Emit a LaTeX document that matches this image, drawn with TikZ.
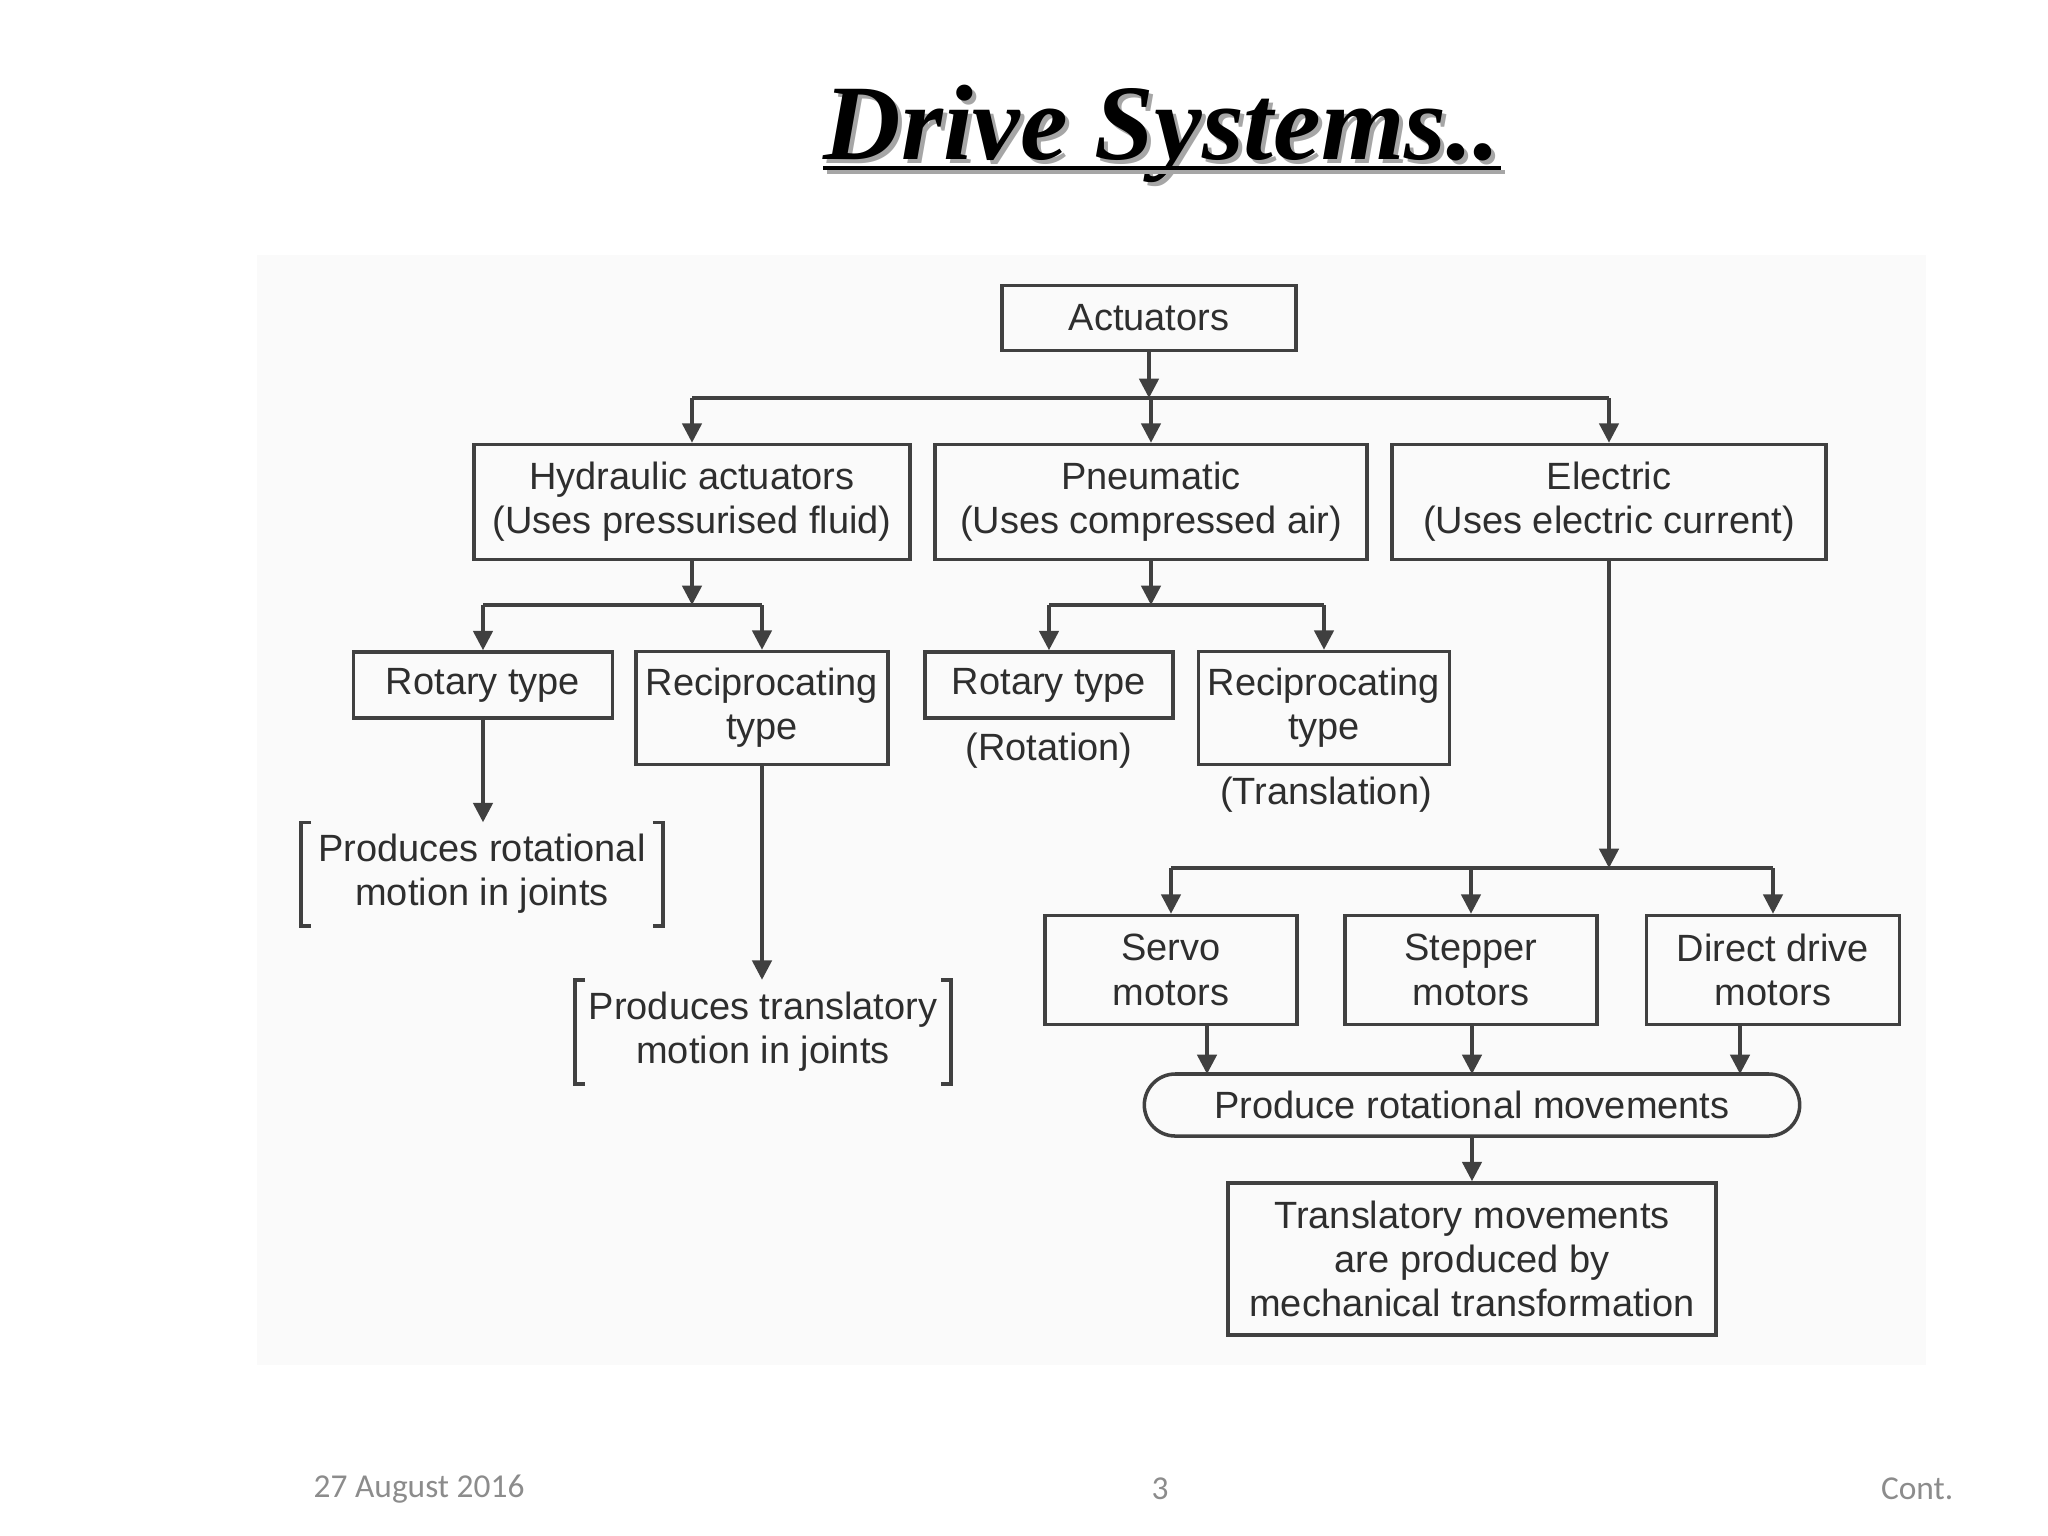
\documentclass[tikz,border=0pt]{standalone}
\usepackage{fontspec}
\setmainfont{Liberation Sans}
\newfontfamily\titlefont{Liberation Serif}
\newfontfamily\footfont{Carlito}
\usetikzlibrary{arrows.meta}

\begin{document}
\begin{tikzpicture}[x=0.01cm, y=-0.01cm,
  box/.style={rectangle, draw=black!75, line width=1pt, inner sep=1pt,
              align=center, text=black!82,
              font=\fontsize{10.8}{12.6}\selectfont},
  pill/.style={box, rounded corners=0.31cm},
  brk/.style={rectangle, inner sep=1pt, align=center, text=black!82,
              font=\fontsize{10.8}{12.6}\selectfont},
  lbl/.style={inner sep=1pt, text=black!82,
              font=\fontsize{10.8}{12.6}\selectfont},
  line/.style={draw=black!75, line width=1pt},
  arr/.style={line, -{Triangle[length=5.5pt, width=5.5pt]}},
  ttlfont/.style={inner sep=0pt, anchor=base,
                  font=\titlefont\bfseries\itshape\fontsize{30.5}{36}\selectfont},
  foot/.style={inner sep=0pt, text=black!45,
               font=\footfont\fontsize{9.5}{11}\selectfont}
]
\useasboundingbox (0,0) rectangle (2048,1536);
\fill[black!2] (257,255) rectangle (1926,1365);

\node[ttlfont, text=black!35] (ttlsh) at (1166,163) {Drive Systems..};
\node[ttlfont] (ttl) at (1162,159) {Drive Systems..};
\coordinate (ul) at (0,168);
\coordinate (ulsh) at (0,172);
\draw[black!35, line width=1.2pt] ([xshift=0.04cm]ttl.west |- ulsh) -- ([xshift=0.04cm]ttl.east |- ulsh);
\draw[black, line width=1.2pt] (ttl.west |- ul) -- (ttl.east |- ul);

\node[box, minimum width=2.94cm, minimum height=0.65cm] (act) at (1149,318) {Actuators};

\node[box, minimum width=4.36cm, minimum height=1.15cm] (hyd) at (692,502)
  {Hydraulic actuators\\(Uses pressurised fluid)};
\node[box, minimum width=4.32cm, minimum height=1.15cm] (pne) at (1151,502)
  {Pneumatic\\(Uses compressed air)};
\node[box, minimum width=4.34cm, minimum height=1.15cm] (ele) at (1609,502)
  {Electric\\(Uses electric current)};

\node[box, minimum width=2.59cm, minimum height=0.66cm] (rothyd) at (483,685) {Rotary type};
\node[box, minimum width=2.52cm, minimum height=1.13cm] (rechyd) at (762,708) {Reciprocating\\type};
\node[box, minimum width=2.48cm, minimum height=0.66cm] (rotpne) at (1049,685) {Rotary type};
\node[box, minimum width=2.51cm, minimum height=1.13cm] (recpne) at (1324,708) {Reciprocating\\type};
\node[lbl] (rotlbl) at (1049,751) {(Rotation)};
\node[lbl] (reclbl) at (1326,795) {(Translation)};

\node[brk, minimum width=3.6cm, minimum height=1.02cm] (brrot) at (482,874)
  {Produces rotational\\motion in joints};
\node[brk, minimum width=3.74cm, minimum height=1.03cm] (brtra) at (763,1032)
  {Produces translatory\\motion in joints};

\node[box, minimum width=2.52cm, minimum height=1.09cm] (servo) at (1171,970) {Servo\\motors};
\node[box, minimum width=2.52cm, minimum height=1.09cm] (stepper) at (1471,970) {Stepper\\motors};
\node[box, minimum width=2.53cm, minimum height=1.09cm] (direct) at (1773,970) {Direct drive\\motors};

\node[pill, minimum width=6.55cm, minimum height=0.62cm] (rotmov) at (1472,1105)
  {Produce rotational movements};
\node[box, minimum width=4.88cm, minimum height=1.52cm] (transl) at (1472,1259)
  {Translatory movements\\are produced by\\mechanical transformation};

\coordinate (busA) at (0,398);
\coordinate (busB) at (0,605);
\coordinate (busD) at (0,868);
\coordinate (inA) at (1207,1074);
\coordinate (inB) at (1472,1074);
\coordinate (inC) at (1740,1074);

\draw[arr] (act) -- (act |- busA);
\draw[line] (hyd |- busA) -- (ele |- busA);
\draw[arr] (hyd |- busA) -- (hyd);
\draw[arr] (pne |- busA) -- (pne);
\draw[arr] (ele |- busA) -- (ele);

\draw[arr] (hyd) -- (hyd |- busB);
\draw[line] (rothyd |- busB) -- (rechyd |- busB);
\draw[arr] (rothyd |- busB) -- (rothyd);
\draw[arr] (rechyd |- busB) -- (rechyd);

\draw[arr] (pne) -- (pne |- busB);
\draw[line] (rotpne |- busB) -- (recpne |- busB);
\draw[arr] (rotpne |- busB) -- (rotpne);
\draw[arr] (recpne |- busB) -- (recpne);

\draw[arr] (rothyd) -- (rothyd |- brrot.north);
\draw[arr] (rechyd) -- (rechyd |- brtra.north);
\draw[line] ([xshift=0.1cm]brrot.north west) -- (brrot.north west) -- (brrot.south west) -- ([xshift=0.1cm]brrot.south west);
\draw[line] ([xshift=-0.1cm]brrot.north east) -- (brrot.north east) -- (brrot.south east) -- ([xshift=-0.1cm]brrot.south east);
\draw[line] ([xshift=0.1cm]brtra.north west) -- (brtra.north west) -- (brtra.south west) -- ([xshift=0.1cm]brtra.south west);
\draw[line] ([xshift=-0.1cm]brtra.north east) -- (brtra.north east) -- (brtra.south east) -- ([xshift=-0.1cm]brtra.south east);

\draw[arr] (ele) -- (ele |- busD);
\draw[line] (servo |- busD) -- (direct |- busD);
\draw[arr] (servo |- busD) -- (servo);
\draw[arr] (stepper |- busD) -- (stepper);
\draw[arr] (direct |- busD) -- (direct);

\draw[arr] (servo.south -| inA) -- (inA);
\draw[arr] (stepper.south -| inB) -- (inB);
\draw[arr] (direct.south -| inC) -- (inC);
\draw[arr] (rotmov) -- (transl);

\node[foot, anchor=west] (date) at (313,1489) {27 August 2016};
\node[foot] (page) at (1160,1489) {3};
\node[foot, anchor=east] (cont) at (1954,1489) {Cont.};
\end{tikzpicture}
\end{document}
